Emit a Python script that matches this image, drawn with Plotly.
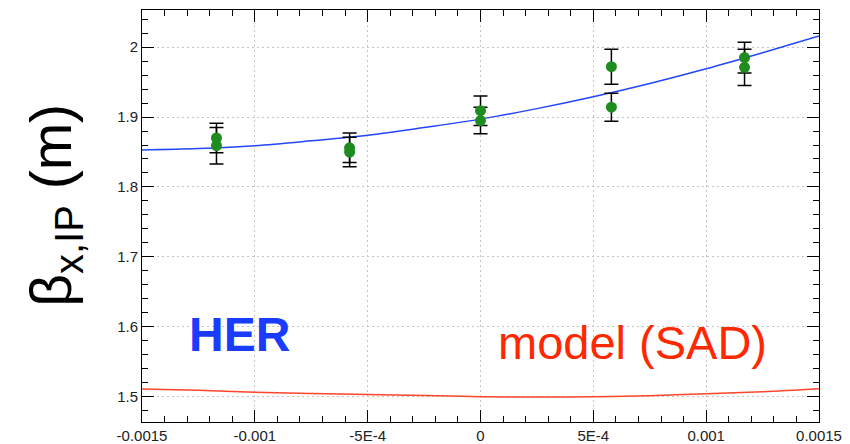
import plotly.graph_objects as go

# ---- data ----
pt_x = [-0.00117, -0.00117, -0.00058, -0.00058, 0.0, 0.0, 0.00058, 0.00058, 0.00117, 0.00117]
pt_y = [1.870, 1.859, 1.856, 1.850, 1.909, 1.895, 1.972, 1.914, 1.985, 1.971]
pt_err = [0.021, 0.026, 0.021, 0.021, 0.021, 0.019, 0.025, 0.020, 0.022, 0.026]

curve_x = [-0.0015, -0.00125, -0.001, -0.00075, -0.0005, -0.00025, 0.0,
           0.00025, 0.0005, 0.00075, 0.001, 0.00125, 0.0015]
fit_y = [1.853, 1.855, 1.859, 1.866, 1.874, 1.885, 1.897,
         1.912, 1.929, 1.948, 1.969, 1.992, 2.016]
model_y = [1.5110, 1.5093, 1.5067, 1.5048, 1.5033, 1.5019, 1.5002,
           1.4998, 1.5000, 1.5017, 1.5043, 1.5072, 1.5114]

# displayed tick labels (ROOT style) for the default numeric labels
x_label_alias = {
    "\u22120.0015": "-0.0015", "-0.0015": "-0.0015",
    "\u22120.001": "-0.001", "-0.001": "-0.001",
    "\u22120.0005": "-5E-4", "-0.0005": "-5E-4",
    "0.0005": "5E-4",
}

X_RANGE = [-0.0015, 0.0015]
Y_RANGE = [1.464, 2.053]

FONT = "Liberation Sans, Arial, Helvetica, sans-serif"

fig = go.Figure()
fig.add_trace(go.Scatter(x=curve_x, y=model_y, mode="lines", line=dict(color="rgb(255,70,45)", width=1.5, shape="spline"), hoverinfo="skip"))
fig.add_trace(go.Scatter(x=curve_x, y=fit_y, mode="lines", line=dict(color="rgb(35,70,255)", width=1.5, shape="spline"), hoverinfo="skip"))
fig.add_trace(go.Scatter(
    x=pt_x, y=pt_y, mode="markers",
    marker=dict(color="rgb(30,140,30)", size=11),
    error_y=dict(type="data", array=pt_err, color="black", thickness=1.5, width=7),
))
# invisible trace so the mirrored (top/right) frame axes are drawn
fig.add_trace(go.Scatter(x=[curve_x[0]], y=[fit_y[0]], xaxis="x2", yaxis="y2", mode="markers",
                         marker=dict(opacity=0), hoverinfo="skip", showlegend=False))

tick_common = dict(
    showline=True, linecolor="black", ticks="inside", tickcolor="black", tickwidth=1,
    automargin=False, zeroline=False,
)

fig.update_layout(
    xaxis=dict(range=X_RANGE, tickmode="linear", tick0=0, dtick=0.0005, labelalias=x_label_alias,
               ticklen=12, minor=dict(ticks="inside", ticklen=6, dtick=0.0001, tickcolor="black"),
               showgrid=True, gridcolor="#c4c4c4", griddash="2px,3px",
               tickfont=dict(family=FONT, size=15, color="#222"), **tick_common),
    yaxis=dict(range=Y_RANGE, tickmode="linear", tick0=1.5, dtick=0.1,
               ticklen=12, minor=dict(ticks="inside", ticklen=6, dtick=0.02, tickcolor="black"),
               showgrid=True, gridcolor="#c4c4c4", griddash="2px,3px",
               tickfont=dict(family=FONT, size=15, color="#222"), **tick_common),
    xaxis2=dict(range=X_RANGE, overlaying="x", side="top", anchor="y2", tickmode="linear", tick0=0, dtick=0.0005,
                ticklen=12, minor=dict(ticks="inside", ticklen=6, dtick=0.0001, tickcolor="black"),
                showgrid=False, showticklabels=False, **tick_common),
    yaxis2=dict(range=Y_RANGE, overlaying="y", side="right", anchor="x2", tickmode="linear", tick0=1.5, dtick=0.1,
                ticklen=12, minor=dict(ticks="inside", ticklen=6, dtick=0.02, tickcolor="black"),
                showgrid=False, showticklabels=False, **tick_common),
)

fig.add_annotation(x=-0.0013, y=1.5886, xref="x", yref="y", text="<b>HER</b>", showarrow=False,
                   xanchor="left", yanchor="middle", font=dict(family=FONT, size=48, color="rgb(25,60,255)"))
fig.add_annotation(x=0.00007, y=1.577, xref="x", yref="y", text="model (SAD)", showarrow=False,
                   xanchor="left", yanchor="middle", font=dict(family=FONT, size=47, color="rgb(255,40,0)"))
fig.add_annotation(x=-0.1285, y=0.525, xref="paper", yref="paper", text="β<sub>x,IP</sub> (m)",
                   showarrow=False, textangle=-90, xanchor="center", yanchor="middle",
                   font=dict(family=FONT, size=57, color="black"))

fig.update_layout(
    width=850, height=444, showlegend=False,
    margin=dict(l=142, r=31, t=10, b=22),
    paper_bgcolor="white", plot_bgcolor="white",
)

fig.write_html("out.html")
